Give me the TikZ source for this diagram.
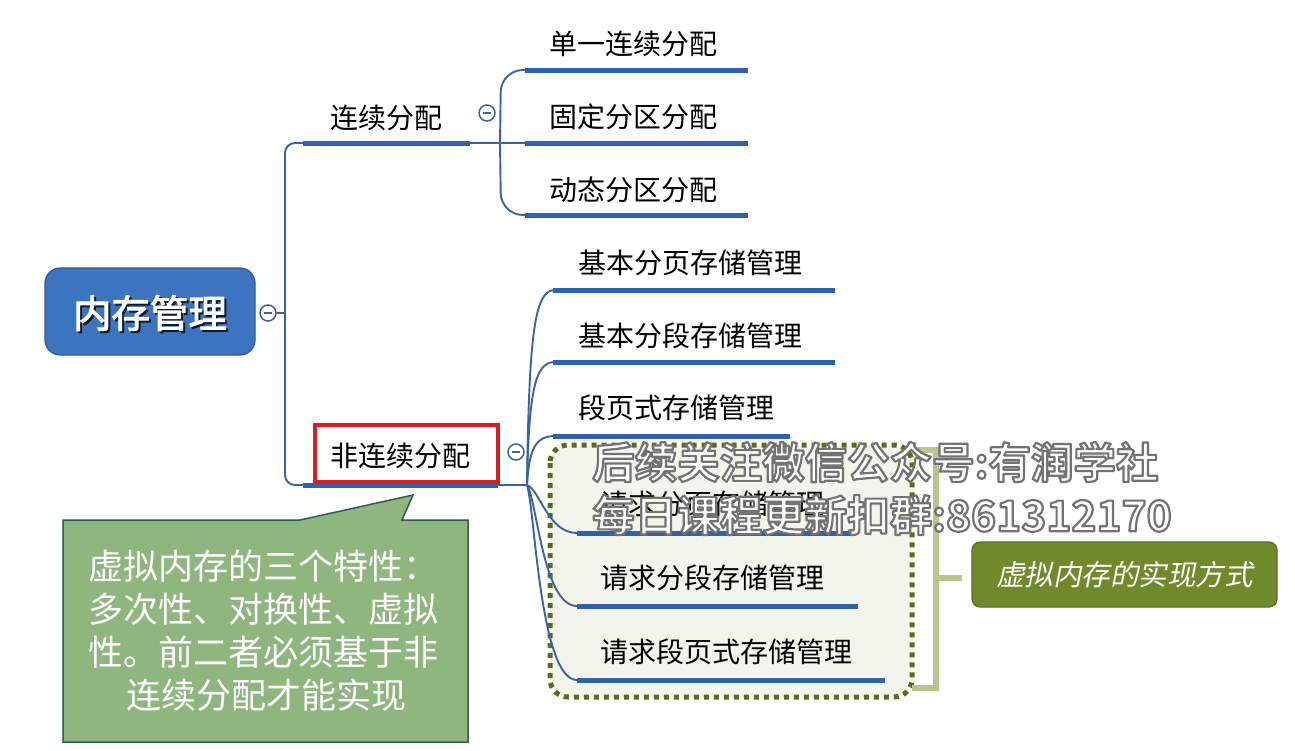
\documentclass[tikz,border=0pt]{standalone}
\usepackage{fontspec}
\setmainfont{Noto Sans CJK SC}[AutoFakeBold=2.5,AutoFakeSlant=0.2]
\IfFontExistsTF{Noto Sans CJK SC Bold}
  {\newfontfamily\wmfont{Noto Sans CJK SC Bold}\newcommand{\wmstroke}{2.2}}
  {\newfontfamily\wmfont{Noto Sans CJK SC}\newcommand{\wmstroke}{1.8}}
\definecolor{ulblue}{HTML}{2E62AE}
\definecolor{lnblue}{HTML}{3A64A0}
\definecolor{rootfill}{HTML}{3C74C0}
\definecolor{rootdraw}{HTML}{2C5A98}
\definecolor{redbox}{HTML}{D42020}
\definecolor{olivedot}{HTML}{5A6B1A}
\definecolor{boxfill}{HTML}{F3F5EC}
\definecolor{bracket}{HTML}{B9C48F}
\definecolor{lblfill}{HTML}{6E8A2A}
\definecolor{lbldraw}{HTML}{5A7020}
\definecolor{callfill}{HTML}{90B67F}
\definecolor{calldraw}{HTML}{2E5A5A}
\newcommand{\wmline}[1]{\wmfont\special{pdf:literal direct 2 Tr \wmstroke\space w 1 j 0.45 0.45 0.45 RG}#1\special{pdf:literal direct 0 Tr 1 w 0 j}}
\begin{document}
\begin{tikzpicture}[x=1pt,y=-1pt,
  ul/.style={line width=5pt, draw=ulblue},
  conn/.style={line width=1.9pt, draw=lnblue},
  lbl/.style={font=\fontsize{28}{30}\selectfont, inner sep=0pt, anchor=west, text=black},
  calltxt/.style={font=\fontsize{35}{38}\selectfont, inner sep=0pt, text=white},
  wmtxt/.style={font=\fontsize{42.5}{46}\selectfont, inner sep=0pt, anchor=west, text=white},
  cbtn/.style={circle, draw=lnblue, line width=1.5pt, fill=white, minimum size=16pt, inner sep=0pt},
  minus/.style={line width=1.4pt, draw=lnblue},
]
\path[fill=white] (0,0) rectangle (1295,750);
\useasboundingbox (0,0) rectangle (1295,750);

% callout
\draw[fill=callfill, draw=calldraw, line width=1.5pt]
  (63,520) -- (300,520) -- (413,495) -- (402,520) -- (468,520) -- (468,742) -- (63,742) -- cycle;
\node[calltxt, anchor=west] (ca) at (88,566) {虚拟内存的三个特性：};
\node[calltxt, anchor=west] (cb) at (88,609) {多次性、对换性、虚拟};
\node[calltxt, anchor=west] (cc) at (88,652) {性。前二者必须基于非};
\node[calltxt] (cd) at (266,695) {连续分配才能实现};

% dotted box and bracket
\draw[draw=olivedot, line width=5pt, dash pattern=on 5pt off 5pt, rounded corners=18pt, fill=boxfill]
  (550,445) rectangle (912,697);
\draw[draw=bracket, line width=6pt] (912,450) -- (936,450) -- (936,688) -- (912,688);
\coordinate (brk) at (936,578);
\node[fill=lblfill, draw=lbldraw, line width=1.2pt, rounded corners=8pt, minimum width=305pt, minimum height=65pt, inner sep=0pt] (lbl) at (1124.5,574.5) {};
\draw[draw=bracket, line width=6pt] (brk) -- (962,578);
\node[font=\fontsize{28.5}{30}\selectfont\itshape, text=white, inner sep=0pt] (lbltxt) at (lbl) {虚拟内存的实现方式};

% root
\node[fill=rootfill, draw=rootdraw, line width=1.2pt, rounded corners=15pt, minimum width=210pt, minimum height=87pt, inner sep=0pt] (root) at (150,311.5) {};
\node[font=\fontsize{38.5}{40}\selectfont\bfseries, text=white, inner sep=0pt] (roottxt) at (150,314) {\makebox[0pt][l]{\color{black!70!rootdraw}\hspace*{2pt}\raisebox{-2pt}{内存管理}}内存管理};

% trunk
\node[cbtn] (b0) at (268,313) {};
\draw[minus] ([xshift=-4pt]b0.center) -- ([xshift=4pt]b0.center);
\draw[conn, rounded corners=10pt] (303,143) -- (285,143) -- (285,485) -- (303,485);
\draw[conn] (b0.east) -- (285,313);

% 连续分配
\node[lbl] (c1) at (330,118) {连续分配};
\draw[ul] (303,143) -- (470,143);
\draw[conn] (470,143) -- (525,143);
\node[cbtn] (b1) at (487,113) {};
\draw[minus] ([xshift=-4pt]b1.center) -- ([xshift=4pt]b1.center);
\draw[conn, rounded corners=22pt] (500,143) -- (501,70) -- (525,70);
\draw[conn, rounded corners=22pt] (500,143) -- (501,215) -- (525,215);
\node[lbl] (c1a) at (549,44) {单一连续分配};
\node[lbl] (c1b) at (549,117) {固定分区分配};
\node[lbl] (c1c) at (549,190) {动态分区分配};
\draw[ul] (525,70) -- (748,70);
\draw[ul] (525,143) -- (748,143);
\draw[ul] (525,215) -- (748,215);

% 非连续分配
\draw[ul] (303,485) -- (498,485);
\node[draw=redbox, line width=3.5pt, minimum width=183pt, minimum height=57pt, inner sep=0pt] (n1box) at (406.5,453.5) {};
\node[lbl] (n1) at (330,456) {非连续分配};
\draw[conn] (498,485) -- (527,485);
\node[cbtn] (b2) at (516,452) {};
\draw[minus] ([xshift=-4pt]b2.center) -- ([xshift=4pt]b2.center);
\coordinate (nb) at (527,485);
\draw[conn] (nb) .. controls (529,330) and (535,290) .. (555,290);
\draw[conn] (nb) .. controls (529,390) and (535,362) .. (555,362);
\draw[conn] (nb) .. controls (529,450) and (535,436) .. (555,436);
\draw[conn] (nb) .. controls (540,490) and (548,533) .. (577,533);
\draw[conn] (nb) .. controls (537,500) and (543,606) .. (577,606);
\draw[conn] (nb) .. controls (535,510) and (540,680) .. (577,680);
\node[lbl] (n1a) at (578,263) {基本分页存储管理};
\node[lbl] (n1b) at (578,336) {基本分段存储管理};
\node[lbl] (n1c) at (578,408) {段页式存储管理};
\node[lbl] (n1d) at (600,504) {请求分页存储管理};
\node[lbl] (n1e) at (600,578) {请求分段存储管理};
\node[lbl] (n1f) at (600,652) {请求段页式存储管理};
\draw[ul] (553,290) -- (835,290);
\draw[ul] (553,362) -- (835,362);
\draw[ul] (553,436) -- (790,436);
\draw[ul] (577,533) -- (855,533);
\draw[ul] (577,606) -- (858,606);
\draw[ul] (577,680) -- (885,680);

% watermark
\node[wmtxt] (wm1) at (592,462) {\wmline{后续关注微信公众号:有润学社}};
\node[wmtxt] (wm2) at (592,515) {\wmline{每日课程更新扣群:861312170}};
\end{tikzpicture}
\end{document}
